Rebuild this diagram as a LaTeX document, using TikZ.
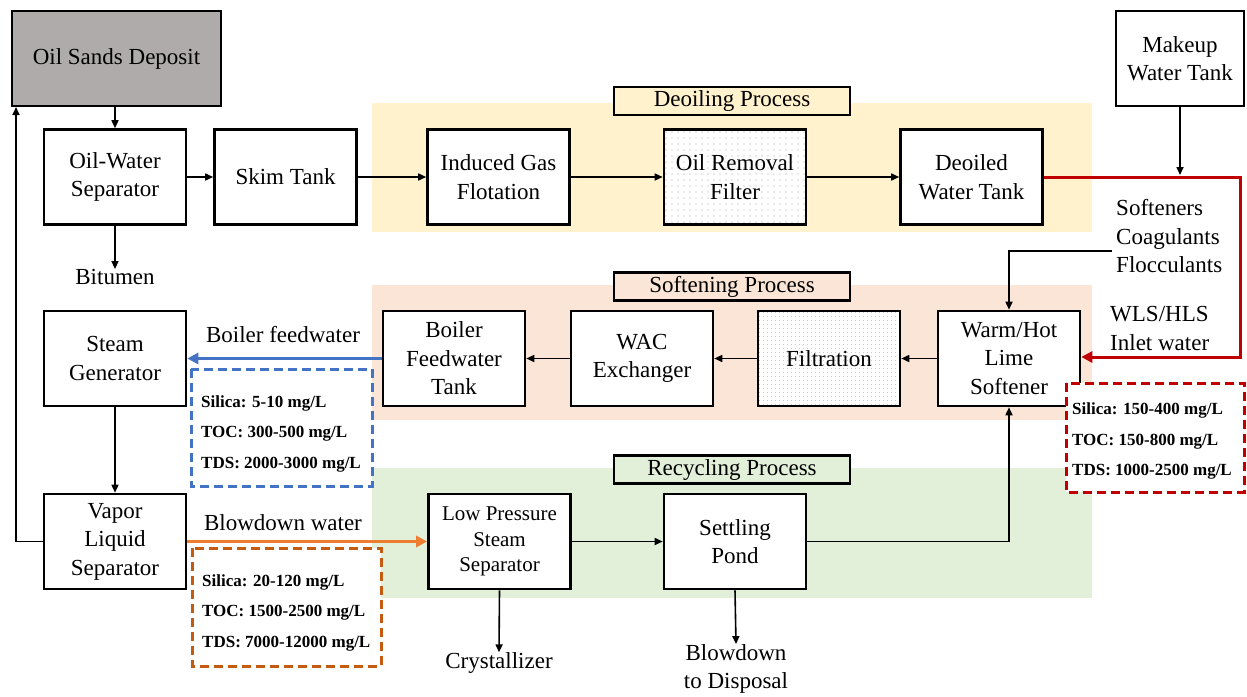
\documentclass[tikz,border=0pt]{standalone}
\usepackage{fontspec}
\setmainfont{Liberation Serif}
\usetikzlibrary{arrows.meta,patterns.meta}
\definecolor{osgray}{HTML}{AFABAB}
\definecolor{deoil}{HTML}{FFF2CC}
\definecolor{soft}{HTML}{FBE5D6}
\definecolor{recyc}{HTML}{E2F0D9}
\definecolor{bluec}{HTML}{4472C4}
\definecolor{orangec}{HTML}{ED7D31}
\definecolor{orangedk}{HTML}{C55A11}
\definecolor{redc}{HTML}{C00000}
\tikzset{
  procbox/.style={draw, line width=2.6, fill=white, minimum width=142, minimum height=95, align=center, inner sep=1, font=\fontsize{23}{28.5}\selectfont},
  dotbox/.style={procbox, preaction={fill=white}, pattern={Dots[distance=6, radius=0.6]}, pattern color=black!35},
  titlebox/.style={draw, line width=2.6, minimum width=236, minimum height=28, inner sep=0, font=\fontsize{23}{26}\selectfont},
  lbl/.style={align=center, inner sep=0, font=\fontsize{23}{28.5}\selectfont},
  flow/.style={line width=1.6, -{Triangle[length=8,width=7]}},
  cflow/.style={line width=3, -{Triangle[length=11,width=11]}},
  dbox/.style={line width=3, dash pattern=on 9 off 5, fill=white},
  dtext/.style={align=left, inner sep=0, anchor=west, font=\fontsize{17}{30.5}\selectfont\bfseries}
}
\begin{document}
\begin{tikzpicture}[x=1pt,y=-1pt]
\useasboundingbox (0,0) rectangle (1247,696);
\fill[white] (0,0) rectangle (1247,696);
% backgrounds
\fill[deoil] (372,103) rectangle (1092,232);
\fill[soft] (372,285) rectangle (1092,420);
\fill[recyc] (372,468) rectangle (1092,598);
\node[titlebox, fill=deoil] (tdeoil) at (732,101) {Deoiling Process};
\node[titlebox, fill=soft] (tsoft) at (732,286.5) {Softening Process};
\node[titlebox, fill=recyc] (trec) at (732,469.5) {Recycling Process};
% boxes
\node[procbox, fill=osgray, minimum width=209, minimum height=95] (osd) at (116.5,58.5) {Oil Sands Deposit};
\node[procbox] (ows) at (115,177) {Oil-Water\\Separator};
\node[procbox] (skim) at (285.5,177) {Skim Tank};
\node[procbox] (igf) at (498.5,177) {Induced Gas\\Flotation};
\node[dotbox] (orf) at (735,177) {Oil Removal\\Filter};
\node[procbox] (dwt) at (971.5,177) {Deoiled\\Water Tank};
\node[procbox, minimum width=128, minimum height=95] (mwt) at (1180,58.5) {Makeup\\Water Tank};
\node[procbox] (sg) at (115,358.5) {Steam\\Generator};
\node[procbox] (bft) at (454,358.5) {Boiler\\Feedwater\\Tank};
\node[procbox] (wac) at (642,358.5) {WAC\\Exchanger};
\node[dotbox, pattern={Dots[distance=4, radius=0.5]}] (filt) at (829,358.5) {Filtration};
\node[procbox] (wls) at (1009,358.5) {Warm/Hot\\Lime\\Softener};
\node[procbox] (vls) at (115,541.5) {Vapor\\Liquid\\Separator};
\node[procbox, font=\fontsize{21}{25.5}\selectfont] (lp) at (499.5,541.5) {Low Pressure\\Steam\\Separator};
\node[procbox] (sp) at (735,541.5) {Settling\\Pond};
% free labels
\node[lbl] (bit) at (115,277) {Bitumen};
\node[lbl] (cry) at (499,663) {Crystallizer};
\node[lbl] (bdd) at (736,669) {Blowdown\\to Disposal};
\node[lbl, align=left, anchor=west] (chem) at (1116,236.5) {Softeners\\Coagulants\\Flocculants};
\node[lbl, align=left, anchor=west] (inlet) at (1110,328.5) {WLS/HLS\\Inlet water};
\node[lbl] (bfw) at (283,335) {Boiler feedwater};
\node[lbl] (bdw) at (283,523) {Blowdown water};
% black connectors
\draw[flow] (osd.south -| ows.north) -- (ows.north);
\draw[flow] (ows) -- (skim);
\draw[flow] (skim) -- (igf);
\draw[flow] (igf) -- (orf);
\draw[flow] (orf) -- (dwt);
\draw[flow] (ows.south) -- (bit.north);
\draw[flow] (mwt.south) -- (1180,175);
\coordinate (chemend) at (1112,251);
\draw[flow] (chemend) -- (1009,251) -- (wls.north);
\draw[flow] (wls) -- (filt);
\draw[flow] (filt) -- (wac);
\draw[flow] (wac) -- (bft);
\draw[flow] (sg) -- (vls);
\draw[flow] (vls.west) -- (16,541.5) -- (16,107);
\draw[flow] (lp) -- (sp);
\draw[flow] (sp.east) -- (1009,541.5) -- (wls.south);
\draw[flow] (lp.south) -- (cry.north);
\draw[flow] (sp.south) -- (bdd.north);
% coloured connectors
\draw[cflow, color=redc] (dwt.east) -- (1240,177) -- (1240,357) -- (wls.east |- 0,357);
\draw[cflow, color=bluec] (bft.west) -- (sg.east);
\draw[cflow, color=orangec] (vls.east) -- (lp.west);
% dashed info boxes
\draw[dbox, draw=bluec] (191,369) rectangle (372,486);
\node[dtext] (tb1) at (201,433.5) {Silica: 5-10 mg/L\\TOC: 300-500 mg/L\\TDS: 2000-3000 mg/L};
\draw[dbox, draw=orangedk] (192,548) rectangle (381,666);
\node[dtext] (tb2) at (202,612.5) {Silica: 20-120 mg/L\\TOC: 1500-2500 mg/L\\TDS: 7000-12000 mg/L};
\draw[dbox, draw=redc] (1066,383) rectangle (1244,492);
\node[dtext] (tb3) at (1072,441) {Silica: 150-400 mg/L\\TOC: 150-800 mg/L\\TDS: 1000-2500 mg/L};
\end{tikzpicture}
\end{document}
